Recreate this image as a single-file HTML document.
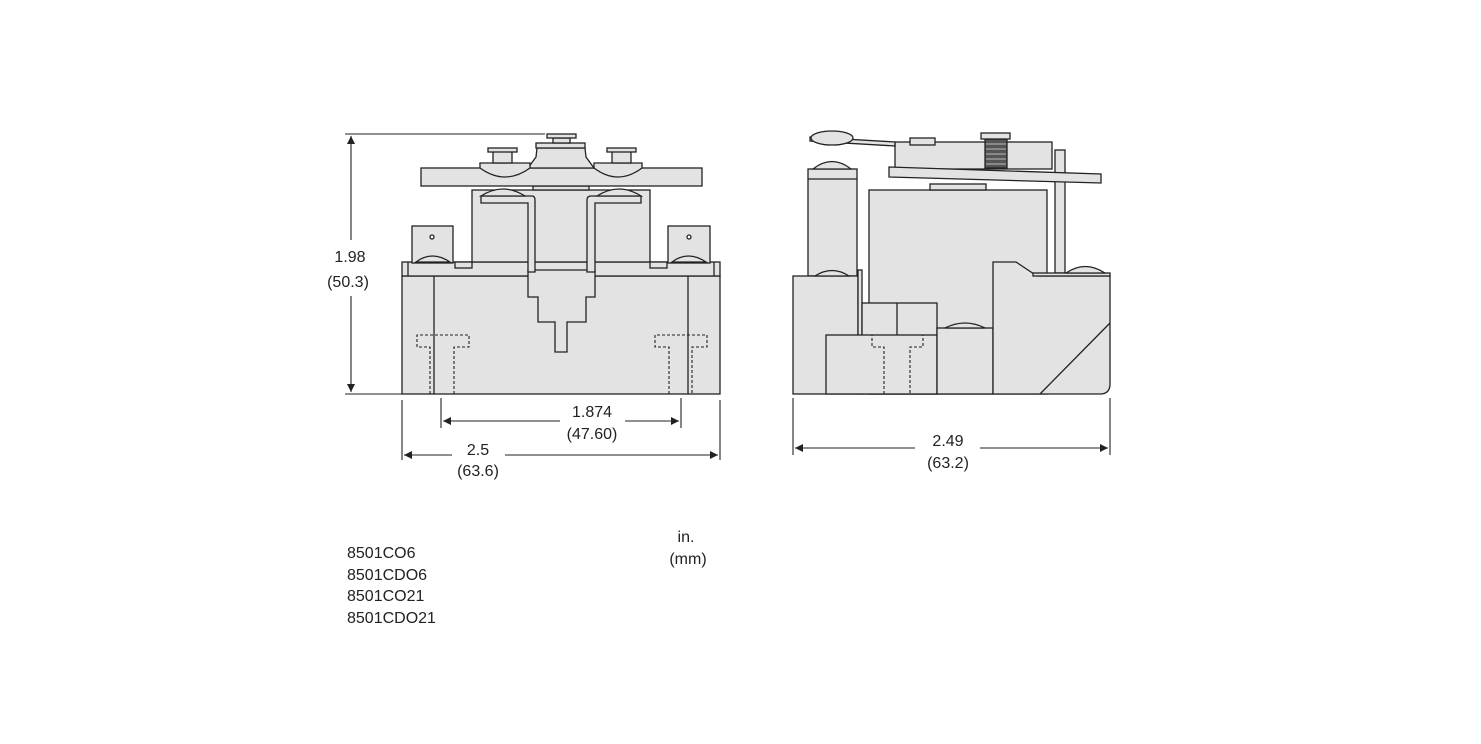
<!DOCTYPE html>
<html><head><style>
html,body{margin:0;padding:0;background:#fff;}
svg{display:block;}
text{font-family:"Liberation Sans",sans-serif;font-size:16px;fill:#222;}
</style></head><body>
<svg width="1481" height="744" viewBox="0 0 1481 744" xmlns="http://www.w3.org/2000/svg">
<defs>
<marker id="a" viewBox="0 0 10 10" refX="10" refY="5" markerWidth="10" markerHeight="8" orient="auto-start-reverse" markerUnits="userSpaceOnUse"><path d="M0,0 L10,5 L0,10 z" fill="#222"/></marker>
</defs>
<g fill="#e3e3e3" stroke="#222" stroke-width="1.3">
<rect x="402" y="276" width="318" height="118"/>
<rect x="402" y="262" width="318" height="14"/>
<line x1="408" y1="262" x2="408" y2="276"/><line x1="714" y1="262" x2="714" y2="276"/>
<line x1="434" y1="276" x2="434" y2="394"/><line x1="688" y1="276" x2="688" y2="394"/>
<rect x="472" y="190" width="178" height="72"/>
<rect x="412" y="226" width="41" height="37"/><rect x="668" y="226" width="42" height="37"/>
<circle cx="432" cy="237" r="2" fill="#fff"/><circle cx="689" cy="237" r="2" fill="#fff"/>
<path d="M416,262 Q432,250 450,262 Z"/><path d="M672,262 Q688,250 706,262 Z"/>
<rect x="455" y="262" width="17" height="6"/><rect x="650" y="262" width="17" height="6"/>
<path d="M528,270 L528,297 L538,297 L538,322 L555,322 L555,352 L567,352 L567,322 L586,322 L586,297 L595,297 L595,270 Z"/>
<path d="M481,196 L532,196 Q535,196 535,200 L535,272 L528,272 L528,203 L481,203 Z"/>
<path d="M641,196 L591,196 Q587,196 587,200 L587,272 L595,272 L595,203 L641,203 Z"/>
<path d="M481,196 Q503,182 525,196 Z"/><path d="M597,196 Q619,182 641,196 Z"/>
<rect x="533" y="186" width="56" height="4"/>
<rect x="421" y="168" width="281" height="18"/>
<path d="M528,168 L536,157 L537,148 L585,148 L586,157 L594,168 Z"/>
<rect x="536" y="143" width="49" height="5"/>
<rect x="553" y="138" width="17" height="5"/>
<rect x="547" y="134" width="29" height="4"/>
<path d="M480,163 L530,163 L530,168 Q505,186 480,168 Z"/>
<path d="M594,163 L642,163 L642,168 Q618,186 594,168 Z"/>
<rect x="493" y="151" width="19" height="12"/><rect x="488" y="148" width="29" height="4"/>
<rect x="612" y="151" width="19" height="12"/><rect x="607" y="148" width="29" height="4"/>
</g>
<g fill="none" stroke="#222" stroke-width="1.1" stroke-dasharray="3,2">
<path d="M430,394 L430,347 L417,347 L417,335 L469,335 L469,347 L454,347 L454,394"/>
<path d="M669,394 L669,347 L655,347 L655,335 L707,335 L707,347 L692,347 L692,394"/>
</g>
<g fill="#e3e3e3" stroke="#222" stroke-width="1.3">
<rect x="869" y="190" width="178" height="204"/>
<rect x="930" y="184" width="56" height="6"/>
<rect x="1055" y="150" width="10" height="123"/>
<rect x="808" y="169" width="49" height="107"/>
<line x1="808" y1="179" x2="857" y2="179"/>
<path d="M813,169 Q832,154 851,169 Z"/>
<rect x="793" y="276" width="65" height="118"/>
<rect x="858" y="270" width="4" height="124"/>
<path d="M815,276 Q832,265 849,276 Z"/>
<rect x="862" y="303" width="75" height="91"/>
<line x1="897" y1="303" x2="897" y2="335"/>
<rect x="826" y="335" width="111" height="59"/>
<rect x="937" y="328" width="56" height="66"/>
<path d="M945,328 Q965,318 985,328 Z"/>
<path d="M993,262 L1016,262 L1037,276 L1110,276 L1110,384 Q1110,394 1100,394 L993,394 Z"/>
<line x1="1040" y1="394" x2="1110" y2="323"/>
<rect x="1033" y="273" width="77" height="3"/>
<path d="M1066,273 Q1085,260 1105,273 Z"/>
<rect x="895" y="142" width="157" height="27"/>
<path d="M889,167 L1101,174 L1101,183 L889,177 Z"/>
<path d="M810,137 L895,142 L895,146 L810,141 Z"/>
<ellipse cx="832" cy="138" rx="21" ry="7"/>
<rect x="910" y="138" width="25" height="7"/>
<rect x="985" y="139" width="22" height="29" fill="#555"/>
<rect x="981" y="133" width="29" height="6"/>
</g>
<g fill="none" stroke="#222" stroke-width="1.1" stroke-dasharray="3,2">
<path d="M884,394 L884,347 L872,347 L872,335 L923,335 L923,347 L910,347 L910,394"/>
</g>
<g stroke="#ddd" stroke-width="0.8">
<line x1="986" y1="144" x2="1006" y2="144"/><line x1="986" y1="149" x2="1006" y2="149"/><line x1="986" y1="154" x2="1006" y2="154"/><line x1="986" y1="159" x2="1006" y2="159"/><line x1="986" y1="164" x2="1006" y2="164"/>
</g>
<g stroke="#222" stroke-width="1.1" fill="none">
<line x1="345" y1="134" x2="545" y2="134"/>
<line x1="345" y1="394" x2="402" y2="394"/>
<line x1="351" y1="136" x2="351" y2="240" marker-start="url(#a)"/>
<line x1="351" y1="296" x2="351" y2="392" marker-end="url(#a)"/>
<line x1="402" y1="400" x2="402" y2="460"/><line x1="720" y1="400" x2="720" y2="460"/>
<line x1="404" y1="455" x2="452" y2="455" marker-start="url(#a)"/>
<line x1="505" y1="455" x2="718" y2="455" marker-end="url(#a)"/>
<line x1="441" y1="398" x2="441" y2="428"/><line x1="681" y1="398" x2="681" y2="428"/>
<line x1="443" y1="421" x2="560" y2="421" marker-start="url(#a)"/>
<line x1="625" y1="421" x2="679" y2="421" marker-end="url(#a)"/>
<line x1="793" y1="398" x2="793" y2="455"/><line x1="1110" y1="398" x2="1110" y2="455"/>
<line x1="795" y1="448" x2="915" y2="448" marker-start="url(#a)"/>
<line x1="980" y1="448" x2="1108" y2="448" marker-end="url(#a)"/>
</g>
<g text-anchor="middle">
<text x="350" y="262">1.98</text><text x="348" y="287">(50.3)</text>
<text x="592" y="417">1.874</text><text x="592" y="439">(47.60)</text>
<text x="478" y="455">2.5</text><text x="478" y="476">(63.6)</text>
<text x="948" y="446">2.49</text><text x="948" y="468">(63.2)</text>
<text x="686" y="542">in.</text><text x="688" y="564">(mm)</text>
</g>
<text x="347" y="558">8501CO6</text>
<text x="347" y="580">8501CDO6</text>
<text x="347" y="601">8501CO21</text>
<text x="347" y="623">8501CDO21</text>
</svg>
</body></html>
